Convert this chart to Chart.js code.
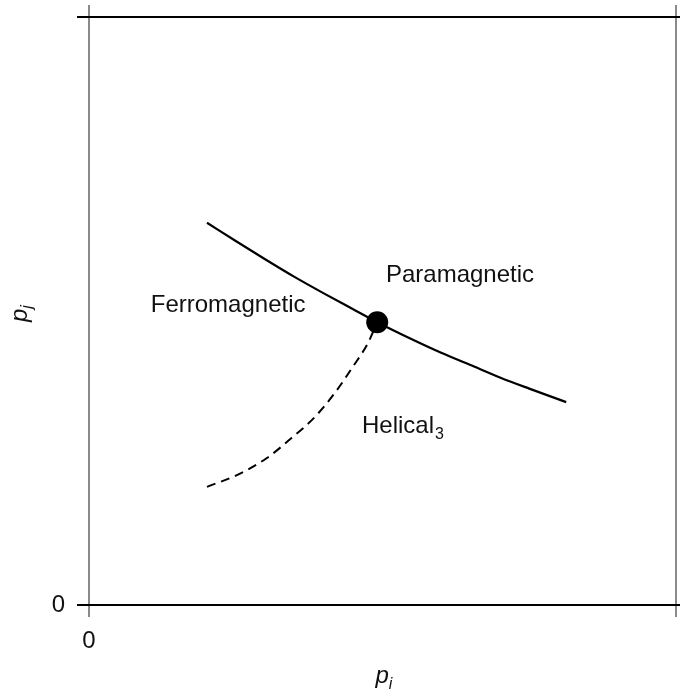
<!DOCTYPE html>
<html>
<head>
  <title>Phase diagram</title>
  <script src="https://cdn.jsdelivr.net/npm/chart.js"></script>
  <style>
    body { margin: 0; background: #fff; }
  </style>
</head>
<body>
  <canvas id="phaseChart" width="680" height="691"></canvas>
  <script>
    // phase boundary (solid) between ferro / para
    const solidX = [0.201, 0.25, 0.30, 0.35, 0.40, 0.45, 0.491, 0.55, 0.60, 0.65, 0.70, 0.75, 0.813];
    const solidY = [0.650, 0.619, 0.588, 0.558, 0.530, 0.503, 0.481, 0.452, 0.429, 0.408, 0.387, 0.368, 0.345];
    // dashed boundary towards the helical phase
    const dashX = [0.201, 0.252, 0.303, 0.345, 0.385, 0.419, 0.448, 0.476, 0.491];
    const dashY = [0.201, 0.221, 0.250, 0.284, 0.320, 0.361, 0.403, 0.447, 0.481];
    // multicritical point
    const dotX = [0.491];
    const dotY = [0.481];
    // tick labels
    const xTicks = [0];
    const yTicks = [0];
    // region labels
    const regionNames = ['Paramagnetic', 'Ferromagnetic', 'Helical'];
    const regionSubs = ['', '', '3'];

    const labelPos = [
      { x: 0.632, y: 0.549, align: 'center' },
      { x: 0.237, y: 0.499, align: 'center' },
      { x: 0.465, y: 0.292, align: 'left' }
    ];

    const toPts = (xs, ys) => xs.map((x, i) => ({ x, y: ys[i] }));
    const FONT = '"Liberation Sans", Arial, sans-serif';

    // no extra padding from tick label overhang
    const noPad = s => { s.paddingTop = s.paddingBottom = s.paddingLeft = s.paddingRight = 0; };

    const framePlugin = {
      id: 'frame',
      beforeDatasetsDraw(chart) {
        const { ctx, scales: { x, y } } = chart;
        const x0 = x.getPixelForValue(0), x1 = x.getPixelForValue(1);
        const y0 = y.getPixelForValue(0), y1 = y.getPixelForValue(1);
        ctx.save();
        ctx.lineWidth = 2;
        ctx.strokeStyle = '#8a8a8a';
        [x0, x1].forEach(px => {
          ctx.beginPath();
          ctx.moveTo(px, y1 - 12);
          ctx.lineTo(px, y0 + 12);
          ctx.stroke();
        });
        ctx.strokeStyle = '#000';
        [y0, y1].forEach(py => {
          ctx.beginPath();
          ctx.moveTo(x0 - 12, py);
          ctx.lineTo(chart.width, py);
          ctx.stroke();
        });
        ctx.restore();
      }
    };

    const textPlugin = {
      id: 'texts',
      afterDraw(chart) {
        const { ctx, scales: { x, y }, chartArea } = chart;
        ctx.save();
        ctx.fillStyle = '#111';
        ctx.textBaseline = 'alphabetic';
        regionNames.forEach((name, i) => {
          const p = labelPos[i];
          const px = x.getPixelForValue(p.x), py = y.getPixelForValue(p.y);
          ctx.font = '24px ' + FONT;
          ctx.textAlign = p.align;
          ctx.fillText(name, px, py);
          if (regionSubs[i]) {
            const w = ctx.measureText(name).width;
            ctx.font = '16px ' + FONT;
            ctx.textAlign = 'left';
            ctx.fillText(regionSubs[i], px + w + 1, py + 6);
          }
        });

        // axis titles p_i and p_j
        const cx = (chartArea.left + chartArea.right) / 2;
        ctx.textAlign = 'left';
        ctx.font = 'italic 24px ' + FONT;
        const pw = ctx.measureText('p').width;
        ctx.fillText('p', cx - 7, 683);
        ctx.font = 'italic 16px ' + FONT;
        ctx.fillText('i', cx - 7 + pw, 689);

        const cy = (chartArea.top + chartArea.bottom) / 2;
        ctx.translate(27, cy + 11);
        ctx.rotate(-Math.PI / 2);
        ctx.font = 'italic 24px ' + FONT;
        ctx.fillText('p', 0, 0);
        ctx.font = 'italic 16px ' + FONT;
        ctx.fillText('j', pw, 5);
        ctx.restore();
      }
    };

    new Chart(document.getElementById('phaseChart'), {
      type: 'scatter',
      data: {
        datasets: [
          {
            data: toPts(solidX, solidY), showLine: true, cubicInterpolationMode: 'monotone',
            borderColor: '#000', borderWidth: 2.2, pointRadius: 0
          },
          {
            data: toPts(dashX, dashY), showLine: true, cubicInterpolationMode: 'monotone',
            borderColor: '#000', borderWidth: 2, borderDash: [9, 6], pointRadius: 0
          },
          {
            data: toPts(dotX, dotY), pointRadius: 11, backgroundColor: '#000',
            borderWidth: 0
          }
        ]
      },
      options: {
        responsive: false,
        animation: false,
        layout: { autoPadding: false, padding: { top: 17, right: 4, left: 0, bottom: 0 } },
        plugins: { legend: { display: false }, tooltip: { enabled: false } },
        scales: {
          x: {
            type: 'linear', min: 0, max: 1,
            grid: { display: false, drawTicks: false },
            border: { display: false },
            afterBuildTicks: s => { s.ticks = xTicks.map(v => ({ value: v })); },
            afterFit: s => { s.height = 86; noPad(s); },
            ticks: { padding: 22, color: '#111', font: { size: 24, family: FONT }, maxRotation: 0 }
          },
          y: {
            type: 'linear', min: 0, max: 1,
            grid: { display: false, drawTicks: false },
            border: { display: false },
            afterBuildTicks: s => { s.ticks = yTicks.map(v => ({ value: v })); },
            afterFit: s => { s.width = 89; noPad(s); },
            ticks: { padding: 24, color: '#111', font: { size: 24, family: FONT } }
          }
        }
      },
      plugins: [framePlugin, textPlugin]
    });
  </script>
</body>
</html>
